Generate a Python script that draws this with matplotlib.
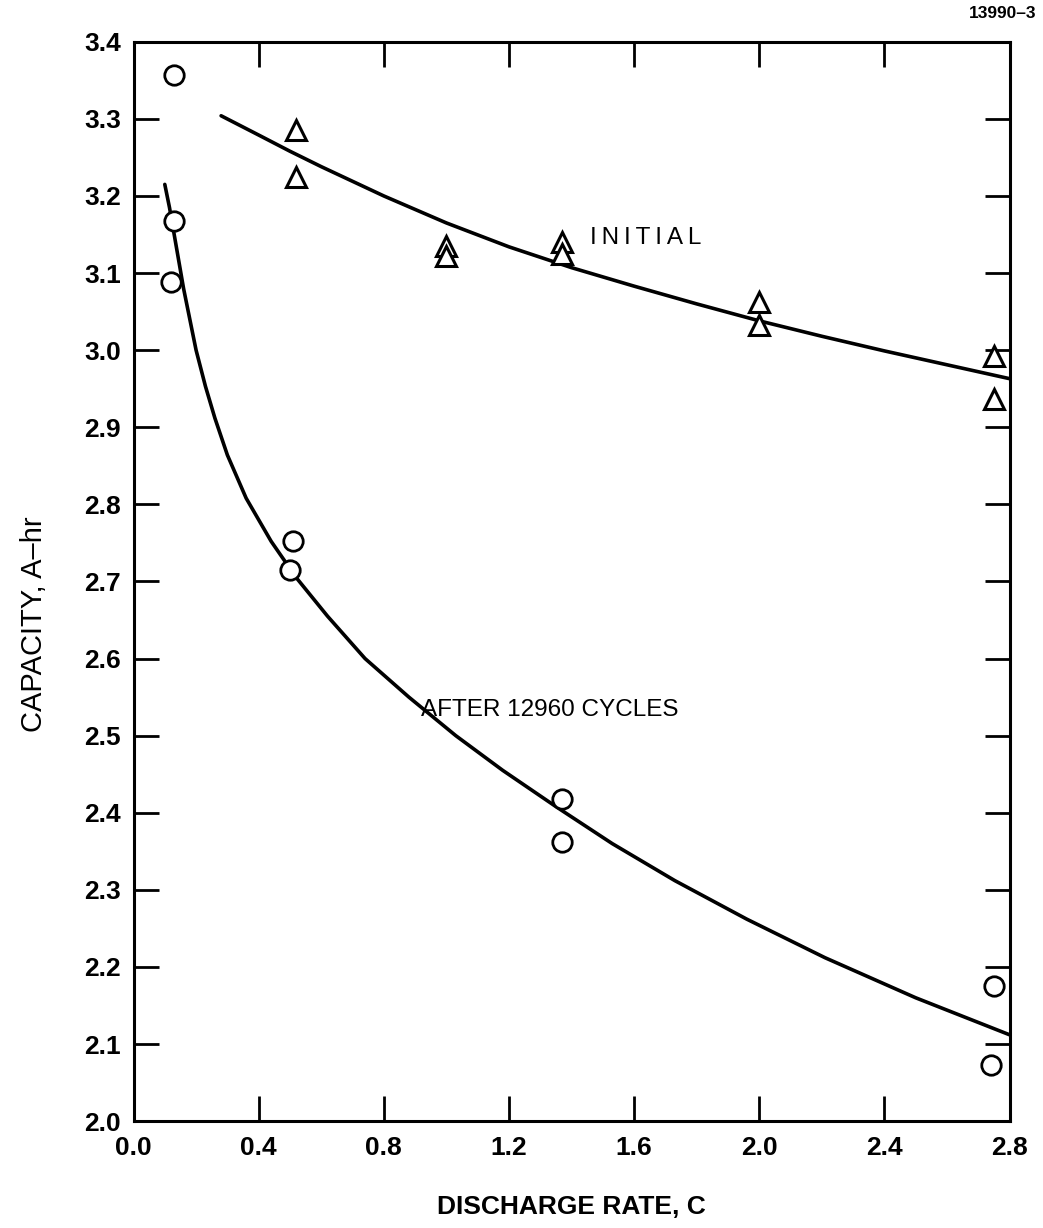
import numpy as np
import matplotlib
matplotlib.use("Agg")
import matplotlib.pyplot as plt

plt.rcParams["font.family"] = ["Liberation Sans", "DejaVu Sans"]

# ── measured points ────────────────────────────────────────────────────────
# discharge rate (C) and capacity (A-hr)
initial_rate = [0.52, 0.52, 1.0, 1.0, 1.37, 1.37, 2.0, 2.0, 2.75, 2.75]
initial_cap  = [3.285, 3.225, 3.135, 3.122, 3.140, 3.125, 3.062, 3.032, 2.992, 2.937]

cycled_rate = [0.13, 0.13, 0.12, 0.51, 0.50, 1.37, 1.37, 2.75, 2.74]
cycled_cap  = [3.357, 3.167, 3.088, 2.752, 2.715, 2.418, 2.362, 2.175, 2.073]

# ── fitted curves ──────────────────────────────────────────────────────────
initial_fit_x = [0.28, 0.40, 0.50, 0.60, 0.80, 1.00, 1.20, 1.40, 1.60, 1.80,
                 2.00, 2.20, 2.40, 2.60, 2.80]
initial_fit_y = [3.304, 3.279, 3.258, 3.238, 3.200, 3.165, 3.134, 3.107, 3.083, 3.060,
                 3.038, 3.018, 2.999, 2.981, 2.963]

cycled_fit_x = [0.10, 0.115, 0.13, 0.16, 0.20, 0.23, 0.26, 0.30, 0.36, 0.44, 0.52, 0.62,
                0.74, 0.88, 1.03, 1.18, 1.35, 1.53, 1.73, 1.96, 2.21, 2.50, 2.80]
cycled_fit_y = [3.215, 3.185, 3.150, 3.080, 3.000, 2.953, 2.912, 2.864, 2.808, 2.752,
                2.705, 2.655, 2.600, 2.550, 2.500, 2.455, 2.408, 2.360, 2.312, 2.262,
                2.212, 2.160, 2.112]

x_ticks = [0.0, 0.4, 0.8, 1.2, 1.6, 2.0, 2.4, 2.8]
y_ticks = [2.0, 2.1, 2.2, 2.3, 2.4, 2.5, 2.6, 2.7, 2.8, 2.9, 3.0, 3.1, 3.2, 3.3, 3.4]

fig = plt.figure(figsize=(10.43, 12.28), dpi=100)
ax = fig.add_axes([0.128, 0.087, 0.840, 0.879])

ax.plot(initial_fit_x, initial_fit_y, color="black", lw=2.6,
        solid_capstyle="round", zorder=2)
ax.plot(cycled_fit_x, cycled_fit_y, color="black", lw=2.6,
        solid_capstyle="round", solid_joinstyle="round", zorder=2)

ax.plot(initial_rate, initial_cap, linestyle="none", marker="^", ms=15,
        mfc="white", mec="black", mew=2.2, zorder=3, clip_on=False)
ax.plot(cycled_rate, cycled_cap, linestyle="none", marker="o", ms=14,
        mfc="white", mec="black", mew=2.0, zorder=3, clip_on=False)

ax.set_xlim(0.0, 2.8)
ax.set_ylim(2.0, 3.4)
ax.set_xticks(x_ticks)
ax.set_yticks(y_ticks)
ax.set_xticklabels([f"{v:.1f}" for v in x_ticks], fontsize=19, fontweight="bold")
ax.set_yticklabels([f"{v:.1f}" for v in y_ticks], fontsize=19, fontweight="bold")

ax.tick_params(axis="both", direction="in", length=18, width=2,
               top=True, right=True)
ax.tick_params(axis="y", pad=9)
ax.tick_params(axis="x", pad=11)
for s in ax.spines.values():
    s.set_linewidth(2.2)

ax.set_xlabel("DISCHARGE RATE, C", fontsize=19, fontweight="bold")
ax.xaxis.set_label_coords(0.5, -0.068)
ax.set_ylabel("CAPACITY, A\u2013hr", fontsize=21)
ax.yaxis.set_label_coords(-0.098, 0.46)

thin = "\u2009"
ax.text(1.46, 3.145, thin.join("INITIAL"), fontsize=17.5, va="center", ha="left")
ax.text(0.92, 2.533, "AFTER 12960 CYCLES", fontsize=17.5, va="center", ha="left")

fig.text(0.994, 0.989, "13990\u20133", fontsize=12.5, fontweight="bold",
         ha="right", va="center")

fig.savefig("out.png", dpi=100)
